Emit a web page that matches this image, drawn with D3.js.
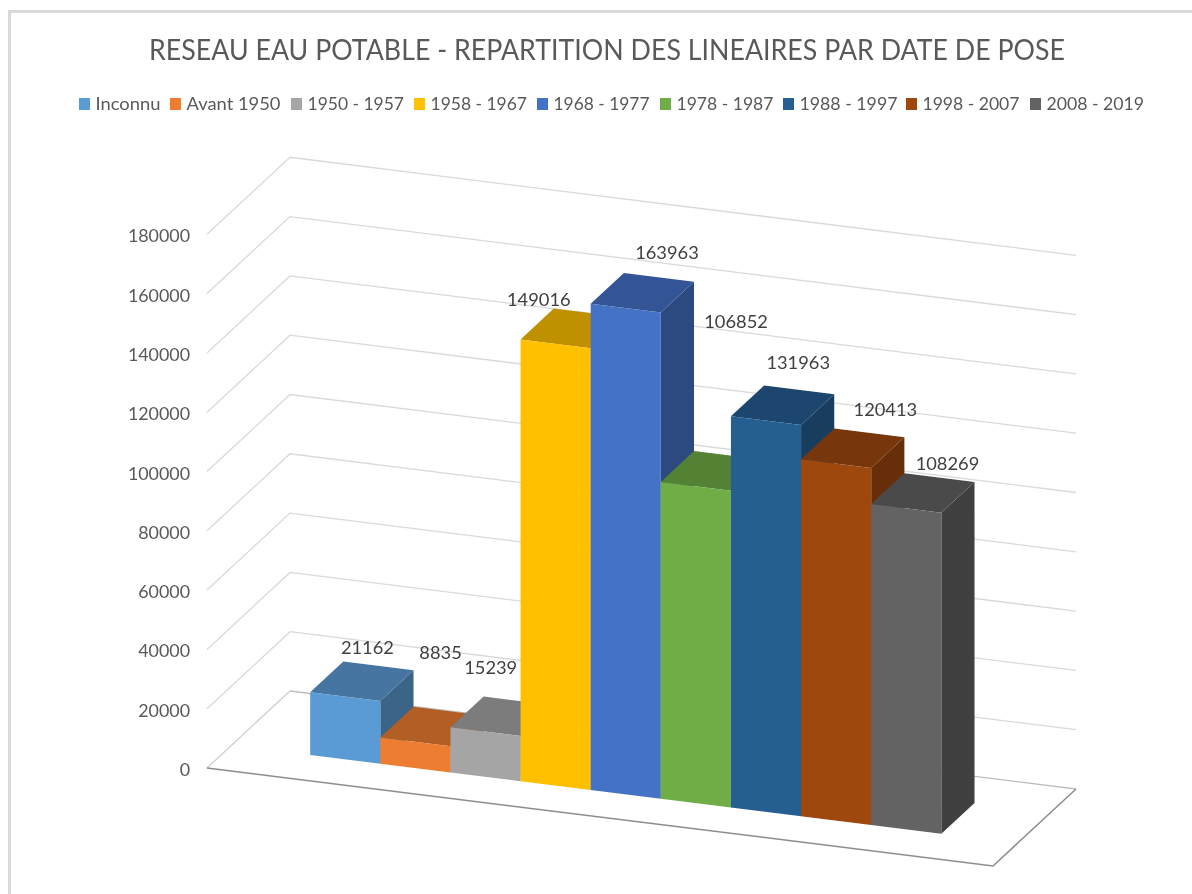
<!DOCTYPE html>
<html><head><meta charset="utf-8">
<script src="https://cdn.jsdelivr.net/npm/d3@7"></script>
<style>
html,body{margin:0;padding:0;background:#fff;overflow:hidden}
svg{display:block;filter:blur(0.3px)}
text{font-family:Lato,"Open Sans",sans-serif;filter:blur(0.35px)}
</style></head><body>
<svg id="c" width="1192" height="894"></svg>
<script>
const titleText = "RESEAU EAU POTABLE - REPARTITION DES LINEAIRES PAR DATE DE POSE";
const categories = ["Inconnu","Avant 1950","1950 - 1957","1958 - 1967","1968 - 1977","1978 - 1987","1988 - 1997","1998 - 2007","2008 - 2019"];
const values = [21162,8835,15239,149016,163963,106852,131963,120413,108269];
const frontColors = ["#5B9BD5","#ED7D31","#A5A5A5","#FFC000","#4472C4","#70AD47","#255E91","#9E480E","#636363"];
const topColors   = ["#4575A0","#B25E25","#7C7C7C","#BF9000","#335595","#548235","#1C466D","#77360B","#4A4A4A"];
const sideColors  = ["#3A6488","#A0521F","#6A6A6A","#A37B00","#2C4A7F","#48702D","#183D5E","#672F09","#404040"];
// layout
const legendSwatchX = [79,170,291,414,537,660,783,906,1030];
const legendTextW = [65,94,96.5,96.5,96,97,98,97,97.5];
const labelNudge = [[-11,-18],[-8,-59],[-28,-33],[-50,-13],[8,-25],[7,-134],[-1,-27],[16,-23],[8,-14]];

const svg = d3.select("#c");
const O = {x:207,y:768}, U = {x:786,y:98}, V = {x:83,y:-77};
const yH = d3.scaleLinear().domain([0,180000]).range([0,533.7]);
const uS = d3.scaleBand().domain(categories).range([0.1,0.903]);
const vFront = 0.296, vBack = 0.696;
const P = (u,v,val) => [O.x+u*U.x+v*V.x, O.y+u*U.y+v*V.y-yH(val)];
const line = d3.line();
const poly = pts => line(pts)+"Z";

// frame
svg.append("path").attr("d","M9.5,894V11.5H1192").attr("fill","none").attr("stroke","#D9D9D9").attr("stroke-width",3);

// title
svg.append("text").attr("x",149).attr("y",60).attr("font-size",29)
  .attr("textLength",916).attr("lengthAdjust","spacingAndGlyphs").attr("fill","#595959").text(titleText);

// legend
categories.forEach((c,i)=>{
  svg.append("rect").attr("x",legendSwatchX[i]).attr("y",98).attr("width",11).attr("height",12).attr("fill",frontColors[i]);
  svg.append("text").attr("x",legendSwatchX[i]+16.5).attr("y",110).attr("font-size",18)
    .attr("textLength",legendTextW[i]).attr("lengthAdjust","spacingAndGlyphs").attr("fill","#595959").text(c);
});

// grid
const ticks = yH.ticks(9);
ticks.forEach(t=>{
  if(t>0) svg.append("path").attr("d",line([P(0,0,t),P(0,1,t),P(1,1,t)])).attr("fill","none").attr("stroke","#D9D9D9").attr("stroke-width",1.3);
  const s = String(t);
  const p = P(0,0,t);
  svg.append("text").attr("x",190).attr("y",p[1]+8).attr("text-anchor","end").attr("font-size",17.5)
    .attr("textLength",s.length*10.35).attr("lengthAdjust","spacingAndGlyphs").attr("fill","#595959").text(s);
});
// floor
svg.append("path").attr("d",line([P(0,0,0),P(0,1,0)])).attr("fill","none").attr("stroke","#D0D0D0").attr("stroke-width",1.4);
svg.append("path").attr("d",line([P(0,1,0),P(1,1,0)])).attr("fill","none").attr("stroke","#BDBDBD").attr("stroke-width",1.3);
svg.append("path").attr("d",line([P(0,0,0),P(1,0,0),P(1,1,0)])).attr("fill","none").attr("stroke","#8C8C8C").attr("stroke-width",1.5);

// bars
const w = uS.bandwidth();
categories.forEach((c,i)=>{
  const a = uS(c), b = a+w, v = values[i];
  const g = svg.append("g");
  g.append("path").attr("d",poly([P(b,vFront,0),P(b,vBack,0),P(b,vBack,v),P(b,vFront,v)])).attr("fill",sideColors[i]);
  g.append("path").attr("d",poly([P(a,vFront,v),P(b,vFront,v),P(b,vBack,v),P(a,vBack,v)])).attr("fill",topColors[i]);
  g.append("path").attr("d",poly([P(a,vFront,0),P(b,vFront,0),P(b,vFront,v),P(a,vFront,v)])).attr("fill",frontColors[i]);
});

// data labels
categories.forEach((c,i)=>{
  const p = P(uS(c)+w/2,vBack,values[i]);
  const s = String(values[i]);
  svg.append("text").attr("x",p[0]+labelNudge[i][0]).attr("y",p[1]+labelNudge[i][1]+6.5).attr("text-anchor","middle")
    .attr("font-size",18).attr("textLength",s.length*10.6).attr("lengthAdjust","spacingAndGlyphs").attr("fill","#404040").text(s);
});
</script></body></html>
